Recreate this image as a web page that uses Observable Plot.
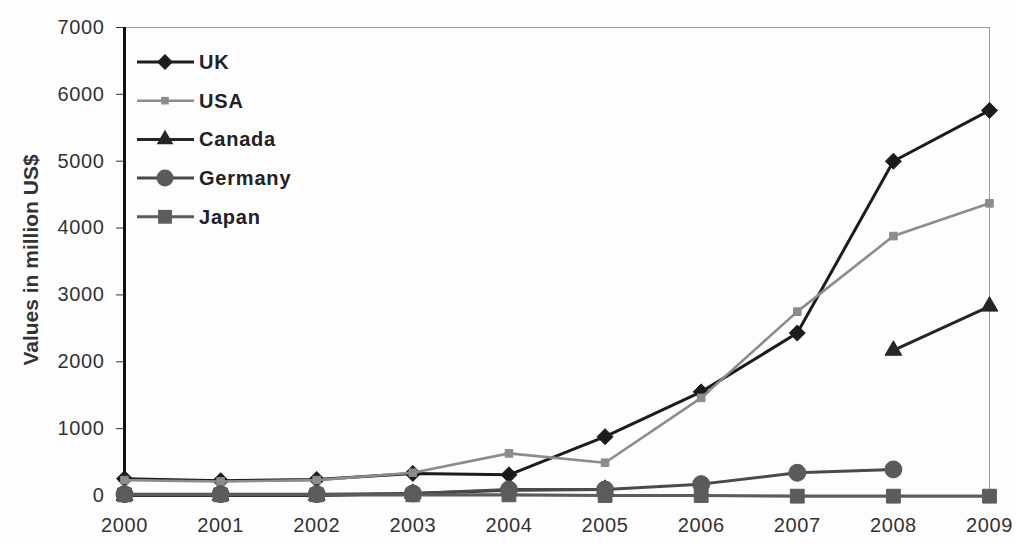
<!DOCTYPE html>
<html>
<head>
<meta charset="utf-8">
<script src="https://cdn.jsdelivr.net/npm/d3@7"></script>
<script src="https://cdn.jsdelivr.net/npm/@observablehq/plot@0.6"></script>
<style>
  html, body { margin: 0; padding: 0; background: #fdfdfd; }
  #chart { width: 1017px; height: 544px; }
</style>
</head>
<body>
<div id="chart"></div>
<script>
const years   = [2000, 2001, 2002, 2003, 2004, 2005, 2006, 2007, 2008, 2009];
const uk      = [250, 220, 240, 330, 310, 880, 1550, 2430, 5000, 5760];
const usa     = [230, 210, 230, 340, 630, 490, 1460, 2750, 3880, 4370];
const canada  = [0, 0, 0, 30, 80, 90, null, null, 2170, 2830];
const germany = [20, 20, 20, 30, 90, 90, 170, 340, 390, null];
const japan   = [10, 10, 10, 10, 10, 0, 0, -10, -10, -10];
const seriesNames = ["UK", "USA", "Canada", "Germany", "Japan"];
const yTicks = [0, 1000, 2000, 3000, 4000, 5000, 6000, 7000];

const seriesValues = [uk, usa, canada, germany, japan];
const styles = {
  UK:      {stroke: "#1c1c1c", fill: "#1c1c1c", symbol: "diamond2", r: 7.2, sw: 3},
  USA:     {stroke: "#8c8c8c", fill: "#8c8c8c", symbol: "square",   r: 4.3, sw: 2.6},
  Canada:  {stroke: "#262626", fill: "#262626", symbol: "triangle", r: 6.2, sw: 3},
  Germany: {stroke: "#4a4a4a", fill: "#5a5a5a", symbol: "circle",   r: 8.5, sw: 3},
  Japan:   {stroke: "#5c5c5c", fill: "#5c5c5c", symbol: "square",   r: 7.8, sw: 3}
};

const table = [];
seriesNames.forEach((s, i) => years.forEach((yr, j) => table.push({series: s, year: yr, value: seriesValues[i][j]})));

const marks = [
  Plot.frame({stroke: "#9a9a9a", strokeWidth: 1}),
  Plot.ruleY([0], {stroke: "#333", strokeWidth: 1.5}),
  Plot.axisY({ticks: yTicks, tickSize: 8, tickPadding: 12, tickFormat: d => String(d), label: null, color: "#333"}),
  Plot.axisX({ticks: years, tickSize: 0, tickPadding: 22, tickFormat: d => String(d), label: null, color: "#333"}),
  Plot.ruleX([2000], {stroke: "#111", strokeWidth: 3})
];
seriesNames.forEach(s => {
  const st = styles[s];
  const d = table.filter(t => t.series === s);
  marks.push(Plot.line(d, {x: "year", y: "value", stroke: st.stroke, strokeWidth: st.sw}));
  marks.push(Plot.dot(d.filter(t => t.value != null), {x: "year", y: "value", symbol: () => st.symbol, r: st.r, fill: st.fill, stroke: st.fill, strokeWidth: 1}));
});

const chart = Plot.plot({
  width: 1017,
  height: 544,
  marginLeft: 124,
  marginRight: 28,
  marginTop: 27,
  marginBottom: 49,
  style: {fontFamily: "'Liberation Sans', Arial, sans-serif", fontSize: "20px", background: "#fdfdfd", color: "#333"},
  x: {domain: [2000, 2009]},
  y: {domain: [0, 7000]},
  symbol: {type: "identity"},
  marks
});

const svg = d3.select(chart);
svg.selectAll('g[aria-label$="tick label"]')
  .attr("font-size", 20)
  .style("font-size", "20px")
  .style("letter-spacing", "0.6px");

// y axis title
svg.append("text")
  .attr("transform", "translate(31,260) rotate(-90)")
  .attr("text-anchor", "middle")
  .attr("dy", "0.35em")
  .attr("font-size", 21)
  .attr("font-weight", "bold")
  .attr("fill", "#333")
  .attr("font-family", "'Liberation Sans', Arial, sans-serif")
  .text("Values in million US$");

// legend
const lg = svg.append("g");
const symMap = {diamond2: d3.symbolDiamond2, square: d3.symbolSquare, triangle: d3.symbolTriangle, circle: d3.symbolCircle};
seriesNames.forEach((s, i) => {
  const st = styles[s];
  const y = 62 + i * 38.7;
  lg.append("line").attr("x1", 137).attr("x2", 194).attr("y1", y).attr("y2", y)
    .attr("stroke", st.stroke).attr("stroke-width", st.sw);
  lg.append("path").attr("d", d3.symbol(symMap[st.symbol], Math.PI * st.r * st.r)())
    .attr("transform", `translate(165,${y})`).attr("fill", st.fill);
  lg.append("text").attr("x", 199).attr("y", y).attr("dy", "0.35em")
    .attr("text-anchor", "start")
    .attr("font-size", 20).attr("font-weight", "bold").attr("fill", "#222")
    .attr("letter-spacing", "0.8px")
    .attr("font-family", "'Liberation Sans', Arial, sans-serif")
    .text(s);
});

document.getElementById("chart").appendChild(chart);
</script>
</body>
</html>
